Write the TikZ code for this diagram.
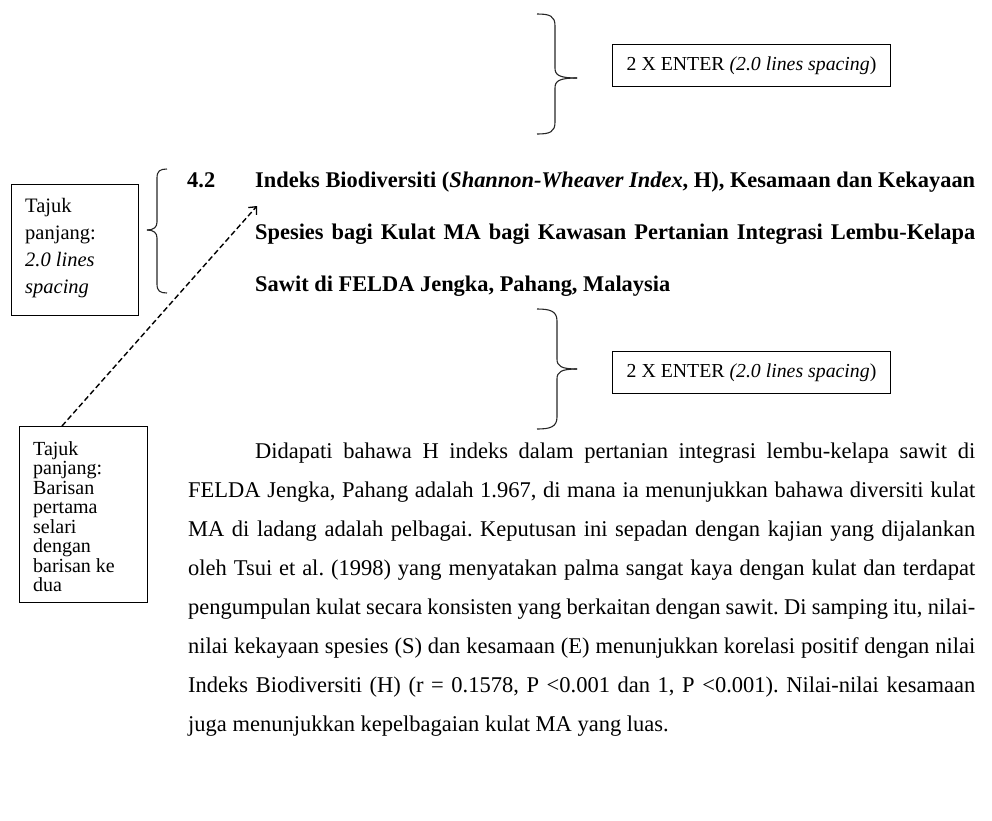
\documentclass[tikz,border=0pt]{standalone}
\usepackage{fontspec}
\setmainfont{Liberation Serif}
\usetikzlibrary{arrows.meta,calc}
\frenchspacing
\begin{document}
\begin{tikzpicture}[x=1pt,y=-1pt,
  brace/.style={line width=1.1pt, black!85},
  ebox/.style={draw, line width=1pt, minimum width=278pt, minimum height=42pt, inner sep=0pt, anchor=north west, font=\fontsize{19.8}{23}\selectfont},
  lbox/.style={draw, line width=1pt, inner sep=0pt, anchor=north west},
  ltext/.style={inner sep=0pt, anchor=base west, font=\fontsize{20.5}{24}\selectfont},
  btext/.style={inner sep=0pt, anchor=base west, font=\fontsize{20}{24}\selectfont},
  body/.style={inner sep=0pt, anchor=base west, font=\fontsize{22.5}{26}\selectfont},
  head/.style={inner sep=0pt, anchor=base west, font=\fontsize{22.4}{26}\selectfont\bfseries},
  leader/.style={line width=1.4pt, dash pattern=on 5.5pt off 3pt, -{Straight Barb[length=6pt,width=11pt,line width=1.3pt]}}
]
\useasboundingbox (0,0) rectangle (992,820);

% top brace and box
\draw[brace] (537,14) .. controls (550,14) and (555,16) .. (555,26) -- (555,68) .. controls (555,75) and (559,78) .. (577,78);
\draw[brace] (537,134) .. controls (550,134) and (555,132) .. (555,122) -- (555,88) .. controls (555,81) and (559,78) .. (577,78);
\node[ebox] (box1) at (612,44) {2 X ENTER \textit{(2.0 lines spacing})};

% left brace
\draw[brace] (167,169) .. controls (160,169) and (157,171) .. (157,178) -- (157,222) .. controls (157,227) and (154,230) .. (147,230);
\draw[brace] (167,293) .. controls (160,293) and (157,291) .. (157,284) -- (157,238) .. controls (157,233) and (154,230) .. (147,230);

% top-left box
\node[lbox, minimum width=127pt, minimum height=131pt] (tl) at (11,184) {};
\foreach \t [count=\i] in {Tajuk, panjang:, \textit{2.0 lines}, \textit{spacing}}
  \node[ltext] (tl\i) at (25,{212+27*(\i-1)}) {\t};

% heading
\node[head] (hnum) at (187,187) {4.2};
\node[head] (h1) at (255,187) {\hbox to 720pt{Indeks Biodiversiti (\textit{Shannon-Wheaver Index}, H), Kesamaan dan Kekayaan}};
\node[head] (h2) at (255,239) {\hbox to 720pt{Spesies bagi Kulat MA bagi Kawasan Pertanian Integrasi Lembu-Kelapa}};
\node[head] (h3) at (255,291) {Sawit di FELDA Jengka, Pahang, Malaysia};

% middle brace and box
\draw[brace] (537,309) .. controls (550,309) and (557,311) .. (557,321) -- (557,359) .. controls (557,366) and (561,369) .. (577,369);
\draw[brace] (537,429) .. controls (550,429) and (557,427) .. (557,417) -- (557,379) .. controls (557,372) and (561,369) .. (577,369);
\node[ebox] (box2) at (612,351) {2 X ENTER \textit{(2.0 lines spacing})};

% bottom-left box
\node[lbox, minimum width=128pt, minimum height=176pt] (bl) at (19,426) {};
\foreach \t [count=\i] in {Tajuk, panjang:, Barisan, pertama, selari, dengan, barisan ke, dua}
  \node[btext] (bl\i) at (33,{455+19.5*(\i-1)}) {\t};

% dashed leader
\coordinate (astart) at ($(bl.north west)+(43,0)$);
\coordinate (atip) at (257,206);
\draw[leader] (astart) -- (atip);

% body paragraph
\node[body] (b1) at (255,458) {\hbox to 720pt{Didapati bahawa H indeks dalam pertanian integrasi lembu-kelapa sawit di}};
\node[body] (b2) at (188,497) {\hbox to 787pt{FELDA Jengka, Pahang adalah 1.967, di mana ia menunjukkan bahawa diversiti kulat}};
\node[body] (b3) at (188,536) {\hbox to 787pt{MA di ladang adalah pelbagai. Keputusan ini sepadan dengan kajian yang dijalankan}};
\node[body] (b4) at (188,575) {\hbox to 787pt{oleh Tsui et al. (1998) yang menyatakan palma sangat kaya dengan kulat dan terdapat}};
\node[body] (b5) at (188,614) {\hbox to 787pt{pengumpulan kulat secara konsisten yang berkaitan dengan sawit. Di samping itu, nilai-}};
\node[body] (b6) at (188,653) {\hbox to 787pt{nilai kekayaan spesies (S) dan kesamaan (E) menunjukkan korelasi positif dengan nilai}};
\node[body] (b7) at (188,692) {\hbox to 787pt{Indeks Biodiversiti (H) (r = 0.1578, P <0.001 dan 1, P <0.001). Nilai-nilai kesamaan}};
\node[body] (b8) at (188,731) {juga menunjukkan kepelbagaian kulat MA yang luas.};
\end{tikzpicture}
\end{document}
